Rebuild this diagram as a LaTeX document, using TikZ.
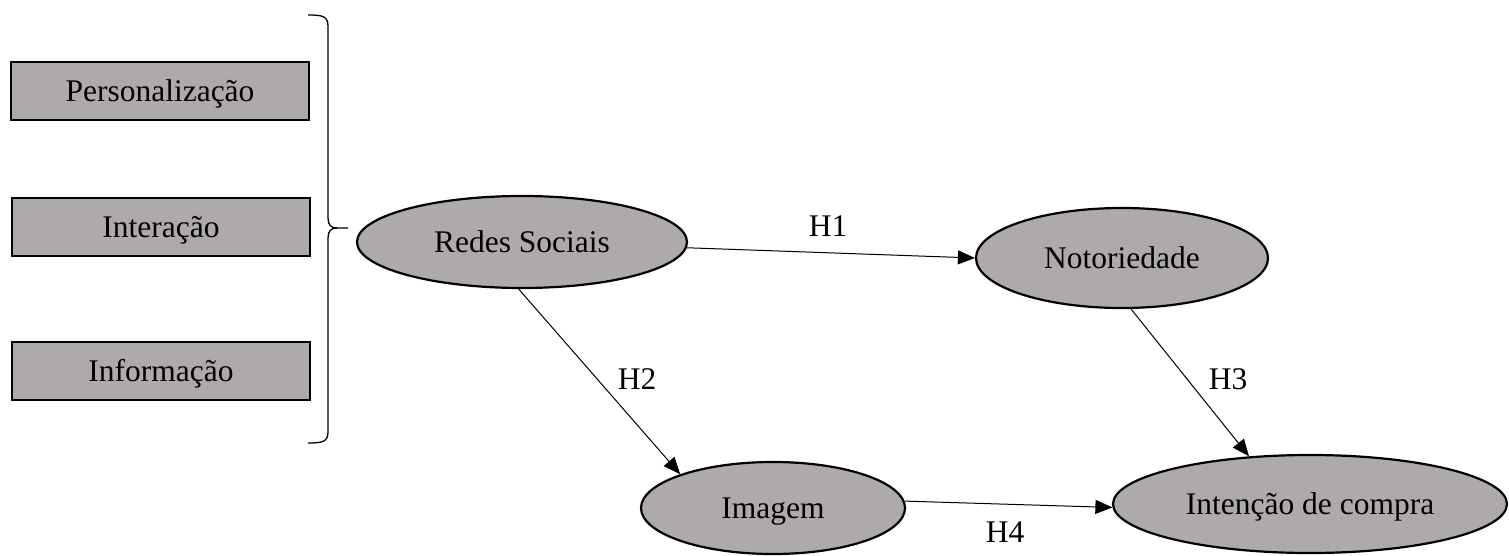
\documentclass[tikz,border=0pt]{standalone}
\usepackage{fontspec}
\setmainfont{Liberation Serif}
\usetikzlibrary{shapes.geometric,arrows.meta}
\definecolor{nodegray}{RGB}{174,170,169}
\begin{document}
\begin{tikzpicture}[x=1pt,y=-1pt,
  every node/.style={font=\fontsize{31.5}{36}\selectfont, text height=21pt, text depth=0pt, inner sep=0pt},
  dimbox/.style={draw, line width=2.6pt, fill=nodegray, minimum width=298pt, minimum height=58pt},
  construct/.style={ellipse, draw, line width=2.2pt, fill=nodegray},
  link/.style={-{Triangle[length=17pt,width=14pt]}, line width=1pt},
  bracket/.style={line width=1.3pt}]
\useasboundingbox (0,0) rectangle (1509,556);

% dimensions of the social-network construct
\node[dimbox] (pers)  at (160,91)  {Personalização};
\node[dimbox] (inter) at (161,227) {Interação};
\node[dimbox] (info)  at (161,371) {Informação};

% grouping brace
\draw[bracket] (308,15) .. controls (322,15) and (328,16) .. (328,26) -- (328,218)
  .. controls (328,225) and (331,228) .. (337,228) -- (348,228);
\draw[bracket] (337,228) .. controls (331,228) and (328,231) .. (328,238) -- (328,432)
  .. controls (328,442) and (322,443) .. (308,443);

% constructs
\node[construct, minimum width=330pt, minimum height=92pt]  (rs) at (522,242)  {Redes Sociais};
\node[construct, minimum width=292pt, minimum height=100pt] (no) at (1122,258) {Notoriedade};
\node[construct, minimum width=264pt, minimum height=92pt]  (im) at (773,508)  {Imagem};
\node[construct, minimum width=394pt, minimum height=98pt]  (ic) at (1310,504) {Intenção de compra};

% hypotheses
\draw[link] (rs.-2)  -- (no.180);
\draw[link] (rs.-94) -- (im.160);
\draw[link] (no.-80) -- (ic.142);
\draw[link] (im.3)   -- (ic.181);

\node (h1) at (828,226)  {H1};
\node (h2) at (637,379)  {H2};
\node (h3) at (1228,379) {H3};
\node (h4) at (1005,532) {H4};
\end{tikzpicture}
\end{document}
